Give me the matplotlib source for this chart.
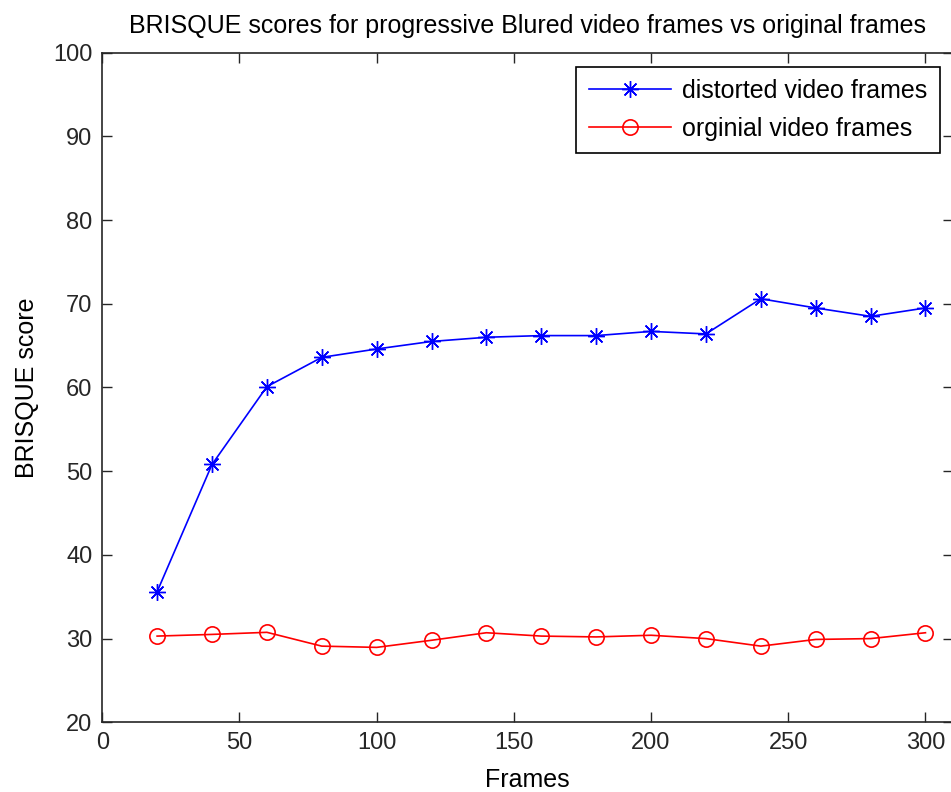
import matplotlib
matplotlib.use("Agg")
import matplotlib.pyplot as plt

# BRISQUE scores per frame number
frames = [20, 40, 60, 80, 100, 120, 140, 160, 180, 200, 220, 240, 260, 280, 300]
distorted = [35.6, 50.8, 60.1, 63.6, 64.6, 65.5, 66.0, 66.2, 66.2, 66.7, 66.4, 70.6, 69.5, 68.5, 69.5]
original = [30.3, 30.5, 30.75, 29.1, 28.95, 29.8, 30.7, 30.3, 30.2, 30.4, 30.0, 29.1, 29.9, 30.0, 30.7]

plt.rcParams['font.family'] = ['Liberation Sans', 'DejaVu Sans']

fig = plt.figure(figsize=(9.51, 7.92), dpi=100)
ax = fig.add_axes([0.1075, 0.088, 0.8945, 0.8455])

ax.plot(frames, distorted, color='blue', marker=(8, 2, 0), markersize=12,
        linewidth=1.2, label='distorted video frames')
ax.plot(frames, original, color='red', marker='o', markersize=11,
        markerfacecolor='none', markeredgewidth=1.2, linewidth=1.2,
        label='orginial video frames')

ax.set_xlim(0, 310)
ax.set_ylim(20, 100)
ax.set_xticks(range(0, 301, 50))
ax.set_yticks(range(20, 101, 10))
ax.tick_params(direction='in', length=7, width=1, top=True, right=True,
               labelsize=17, pad=7, colors='#262626')
for s in ax.spines.values():
    s.set_linewidth(1.2)
    s.set_color('#262626')

ax.set_title('BRISQUE scores for progressive Blured video frames vs original frames',
             fontsize=18, pad=14)
ax.set_xlabel('Frames', fontsize=18, labelpad=10)
ax.set_ylabel('BRISQUE score', fontsize=18, labelpad=10)

leg = ax.legend(loc='upper right', bbox_to_anchor=(0.985, 0.979), borderaxespad=0,
                fancybox=False, framealpha=1, edgecolor='black', fontsize=18,
                handlelength=3.3, handletextpad=0.45, borderpad=0.5,
                labelspacing=0.55)
leg.get_frame().set_linewidth(1.2)

fig.savefig('out.png', dpi=100)
